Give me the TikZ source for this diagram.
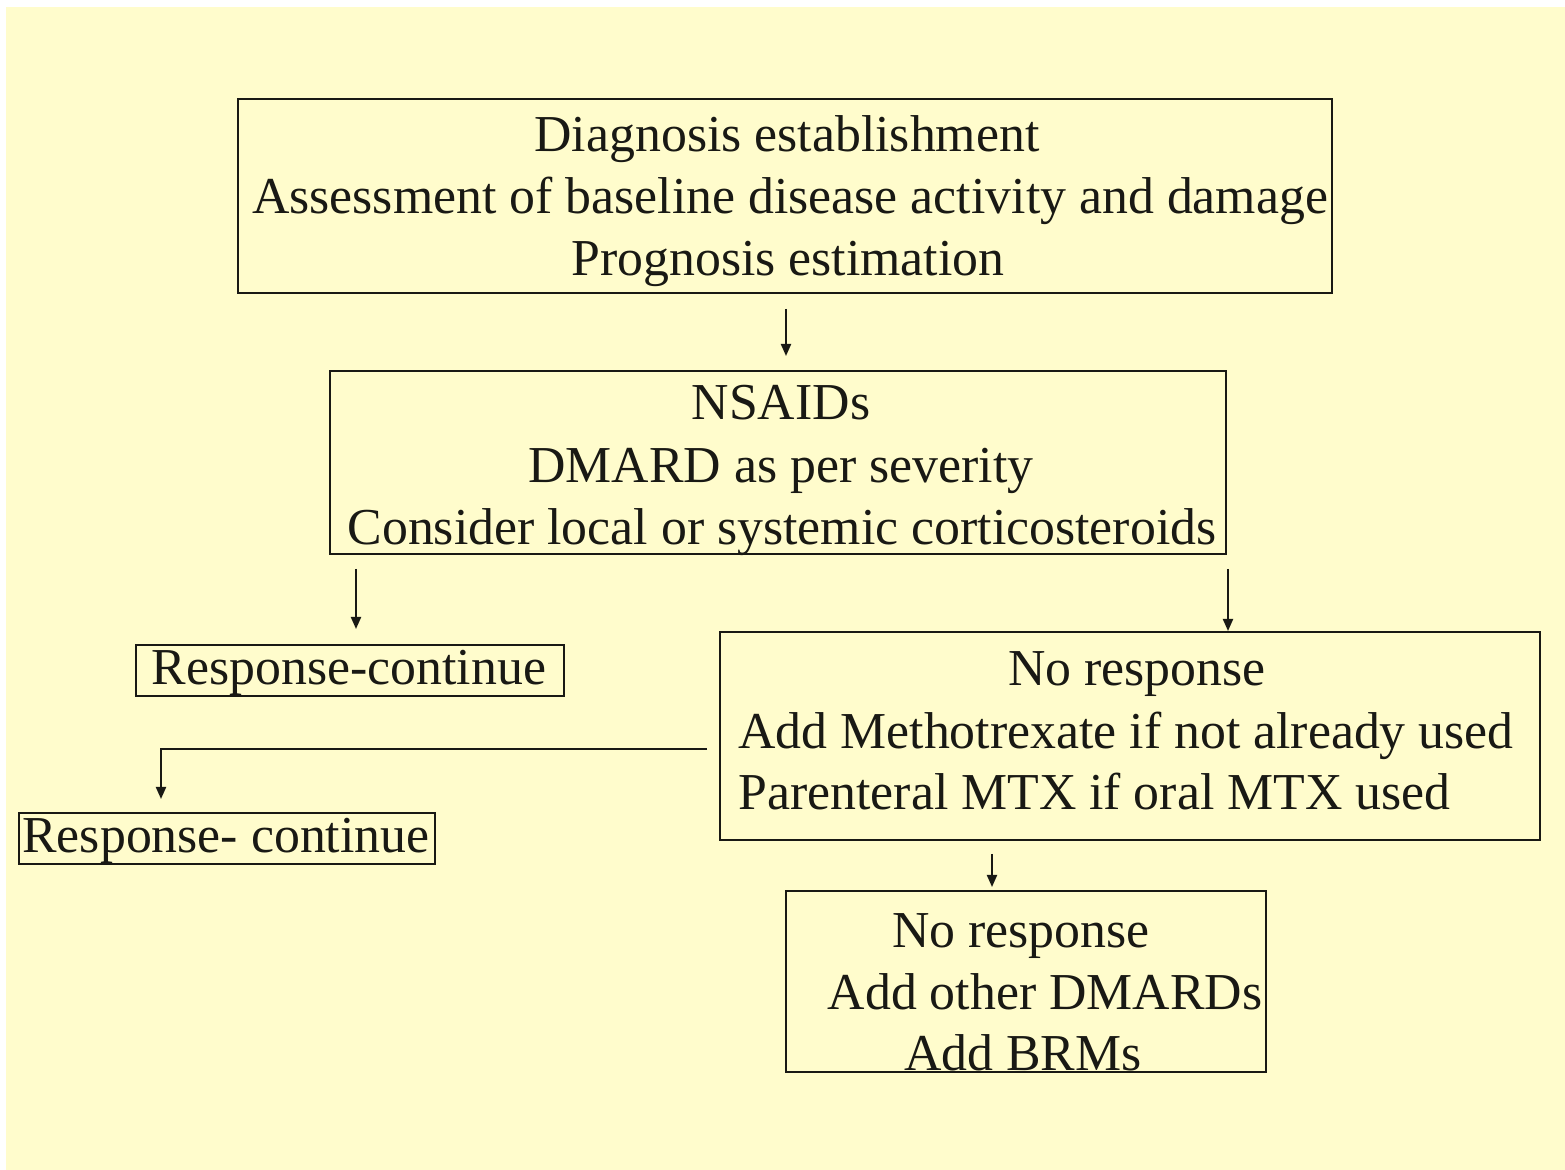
\documentclass[tikz,border=0pt]{standalone}
\usepackage{fontspec}
\setmainfont{Liberation Serif}
\usetikzlibrary{calc,arrows.meta}
\definecolor{bgyellow}{RGB}{255,252,204}
\definecolor{ink}{RGB}{25,25,20}
\begin{document}
\begin{tikzpicture}[x=0.5pt,y=-0.5pt,
  box/.style={draw=ink,line width=1pt,inner sep=0pt,rectangle},
  txt/.style={inner sep=0pt,anchor=base,text=ink,font=\fontsize{25.9}{31}\selectfont},
  txtl/.style={txt,anchor=base west},
  arr/.style={draw=ink,line width=1pt,-{Triangle[length=6pt,width=5pt]}}]
\useasboundingbox (0,0) rectangle (1565,1170);
\fill[bgyellow] (6,7) rectangle (1565,1170);

% Box 1
\node[box,minimum width=547pt,minimum height=97pt] (b1) at (785,196) {};
\node[txt] (t1a) at (787,152) {Diagnosis establishment};
\node[txt] (t1b) at (790,214) {Assessment of baseline disease activity and damage};
\node[txt] (t1c) at (788,276) {Prognosis estimation};

% Box 2
\node[box,minimum width=448pt,minimum height=91.5pt] (b2) at (778,462.5) {};
\node[txt] (t2a) at (781,420) {NSAIDs};
\node[txt] (t2b) at (781,483) {DMARD as per severity};
\node[txt] (t2c) at (782,545) {Consider local or systemic corticosteroids};

% Box 3
\node[box,minimum width=214pt,minimum height=25.5pt] (b3) at (350,670.5) {};
\node[txt] (t3) at (349,685) {Response-continue};

% Box 4
\node[box,minimum width=410pt,minimum height=104pt] (b4) at (1130,736) {};
\node[txt] (t4a) at (1137,686) {No response};
\node[txtl] (t4b) at (738,749) {Add Methotrexate if not already used};
\node[txtl] (t4c) at (738,810) {Parenteral MTX if oral MTX used};

% Box 5
\node[box,minimum width=208pt,minimum height=25.5pt] (b5) at (227,838.5) {};
\node[txt] (t5) at (226,853) {Response- continue};

% Box 6
\node[box,minimum width=240pt,minimum height=90.5pt] (b6) at (1026,981.5) {};
\node[txt] (t6a) at (1021,948) {No response};
\node[txt] (t6b) at (1045,1009) {Add other DMARDs};
\node[txt] (t6c) at (1023,1070) {Add BRMs};

% Connectors
\draw[arr,shorten <=7.5pt,shorten >=7pt] ($(b1.south)+(1,0)$) -- ($(b2.north)+(8,0)$);
\coordinate (c2l) at ($(b2.south west)+(27,0)$);
\draw[arr,shorten <=7pt,shorten >=7.5pt] (c2l) -- (c2l |- b3.north);
\coordinate (c2r) at ($(b2.south east)+(1,0)$);
\draw[arr,shorten <=7pt] (c2r) -- (c2r |- b4.north);
\coordinate (c4l) at ($(b4.west)+(-12,13)$);
\coordinate (c5t) at ($(b5.north west)+(143,0)$);
\draw[arr,shorten >=6.5pt] (c4l) -- (c4l -| c5t) -- (c5t);
\coordinate (c4b) at ($(b4.south west)+(273,0)$);
\draw[arr,shorten <=6.5pt,shorten >=1.5pt] (c4b) -- (c4b |- b6.north);
\end{tikzpicture}
\end{document}
